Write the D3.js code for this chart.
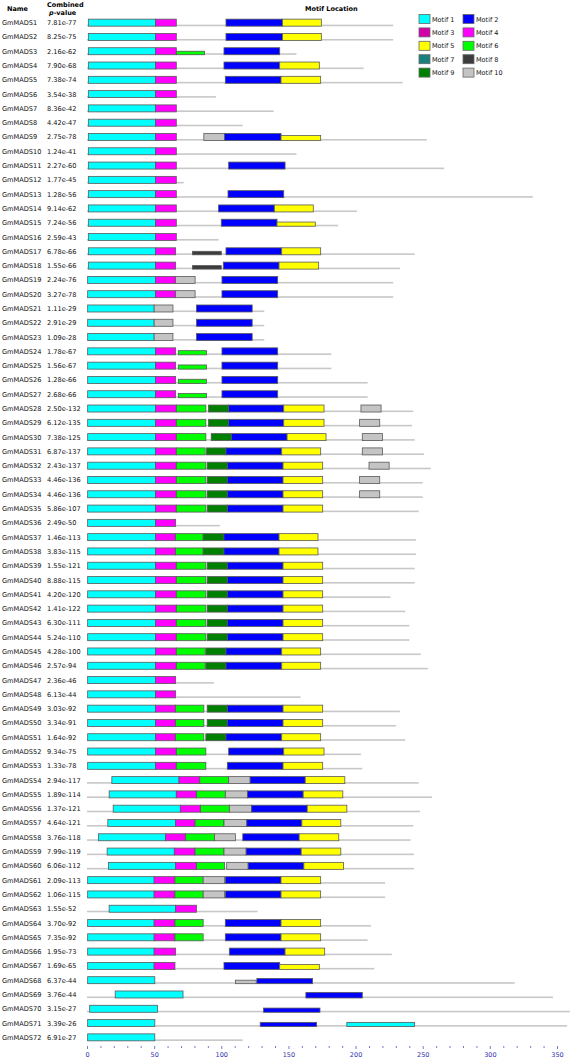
<!DOCTYPE html>
<html><head><meta charset="utf-8">
<script src="https://cdn.jsdelivr.net/npm/d3@7"></script>
<style>body{margin:0;background:#fff}svg{display:block}text{font-family:"DejaVu Sans",Verdana,sans-serif}</style>
</head><body><svg id="chart" width="570" height="1063"></svg>
<script>
const names = ["GmMADS1","GmMADS2","GmMADS3","GmMADS4","GmMADS5","GmMADS6","GmMADS7","GmMADS8","GmMADS9","GmMADS10","GmMADS11","GmMADS12","GmMADS13","GmMADS14","GmMADS15","GmMADS16","GmMADS17","GmMADS18","GmMADS19","GmMADS20","GmMADS21","GmMADS22","GmMADS23","GmMADS24","GmMADS25","GmMADS26","GmMADS27","GmMADS28","GmMADS29","GmMADS30","GmMADS31","GmMADS32","GmMADS33","GmMADS34","GmMADS35","GmMADS36","GmMADS37","GmMADS38","GmMADS39","GmMADS40","GmMADS41","GmMADS42","GmMADS43","GmMADS44","GmMADS45","GmMADS46","GmMADS47","GmMADS48","GmMADS49","GmMADS50","GmMADS51","GmMADS52","GmMADS53","GmMADS54","GmMADS55","GmMADS56","GmMADS57","GmMADS58","GmMADS59","GmMADS60","GmMADS61","GmMADS62","GmMADS63","GmMADS64","GmMADS65","GmMADS66","GmMADS67","GmMADS68","GmMADS69","GmMADS70","GmMADS71","GmMADS72"];
const pValues = ["7.81e-77","8.25e-75","2.16e-62","7.90e-68","7.38e-74","3.54e-38","8.36e-42","4.42e-47","2.75e-78","1.24e-41","2.27e-60","1.77e-45","1.28e-56","9.14e-62","7.24e-56","2.59e-43","6.78e-66","1.55e-66","2.24e-76","3.27e-78","1.11e-29","2.91e-29","1.09e-28","1.78e-67","1.56e-67","1.28e-66","2.68e-66","2.50e-132","6.12e-135","7.38e-125","6.87e-137","2.43e-137","4.46e-136","4.46e-136","5.86e-107","2.49e-50","1.46e-113","3.83e-115","1.55e-121","8.88e-115","4.20e-120","1.41e-122","6.30e-111","5.24e-110","4.28e-100","2.57e-94","2.36e-46","6.13e-44","3.03e-92","3.34e-91","1.64e-92","9.34e-75","1.33e-78","2.94e-117","1.89e-114","1.37e-121","4.64e-121","3.76e-118","7.99e-119","6.06e-112","2.09e-113","1.06e-115","1.55e-52","3.70e-92","7.35e-92","1.95e-73","1.69e-65","6.37e-44","3.76e-44","3.15e-27","3.39e-26","6.91e-27"];
const seqLengths = [228,228,156,206,235,96,139,116,253,156,266,72,332,201,187,98,244,233,228,228,132,132,132,182,182,209,209,243,242,244,251,256,250,250,247,99,245,245,244,244,226,237,240,240,248.5,254,94.5,159,233,230,237,204,205,247,257,248,243,241,243.5,243.5,222,222,127,211.5,209,227,214,318.5,347,359.5,357.5,116];
// each site: [motif, start, end, relative height]
const motifSites = [
 [[1,1,51],[4,51,66.5],[2,103.5,145.5],[5,145.5,174.5]],
 [[1,1,51],[4,51,66.5],[2,103.5,145.5],[5,145.5,174.5]],
 [[1,1,51],[4,51,66.5],[6,66.5,87.5,0.5],[2,102,143.5]],
 [[1,1,51],[4,51,66.5],[2,102,143.5],[5,143.5,173]],
 [[1,1,51],[4,51,66.5],[2,103,144.5],[5,144.5,174]],
 [[1,1,51],[4,51,66.5]],
 [[1,1,51],[4,51,66.5]],
 [[1,1,51],[4,51,66.5]],
 [[1,1,51],[4,51,66.5],[10,87,102.5],[2,102.5,144.5],[5,144.5,174,0.7]],
 [[1,1,51],[4,51,66.5]],
 [[1,1,51],[4,51,66.5],[2,105.5,147.5]],
 [[1,1,51],[4,51,66.5]],
 [[1,1,51],[4,51,66.5],[2,105,146.5]],
 [[1,1,51],[4,51,66.5],[2,98,139.5],[5,139.5,168.5]],
 [[1,1,51],[4,51,66.5],[2,100,141.5],[5,141.5,170,0.6]],
 [[1,1,51],[4,51,66.5]],
 [[1,1,51],[4,51,66],[8,78.5,100,0.5],[2,103.5,145],[5,145,174]],
 [[1,1,51],[4,51,66],[8,78.5,100,0.5],[2,101.5,143],[5,143,172.5]],
 [[1,0.5,51],[4,51,66],[10,66,80.5],[2,100.5,142]],
 [[1,0.5,51],[4,51,66],[10,66,80.5],[2,100.5,142]],
 [[1,0.5,50],[10,50,64],[2,81.5,123]],
 [[1,0.5,50],[10,50,64],[2,81.5,123]],
 [[1,0.5,50],[10,50,64],[2,81.5,123]],
 [[1,0.5,51],[4,51,66],[6,68,89,0.6],[2,100.5,142]],
 [[1,0.5,51],[4,51,66],[6,68,89,0.6],[2,100.5,142]],
 [[1,0.5,51],[4,51,66],[6,68,89,0.6],[2,100.5,142]],
 [[1,0.5,51],[4,51,66],[6,68,89,0.6],[2,100.5,142]],
 [[1,0.5,51],[4,51,66.5],[6,66.5,88.5],[9,90.5,105.5],[2,105.5,146.5],[5,146.5,176.5],[10,204,219]],
 [[1,0.5,51],[4,51,66.5],[6,66.5,88.5],[9,90.5,105.5],[2,105.5,146.5],[5,146.5,176.5],[10,203,218]],
 [[1,0.5,51],[4,51,66.5],[6,66.5,88.5],[9,92.5,107.5],[2,107.5,149],[5,149,178],[10,205,220]],
 [[1,0.5,51],[4,51,66.5],[6,66.5,88],[9,89,103.5],[2,103.5,145],[5,145,174],[10,205,220]],
 [[1,0.5,51],[4,51,66.5],[6,66.5,88.5],[9,89.5,104.5],[2,104.5,146],[5,146,175.5],[10,210,225]],
 [[1,0.5,51],[4,51,66.5],[6,66.5,88.5],[9,89.5,104.5],[2,104.5,146],[5,146,175.5],[10,203,218]],
 [[1,0.5,51],[4,51,66.5],[6,66.5,88.5],[9,89.5,104.5],[2,104.5,146],[5,146,175.5],[10,203,218]],
 [[1,0.5,51],[4,51,66.5],[6,66.5,88.5],[9,89.5,104.5],[2,104.5,146],[5,146,175.5]],
 [[1,0.5,51],[4,51,66]],
 [[1,0.5,51],[4,51,66],[6,66,86.5],[9,86.5,102],[2,102,143],[5,143,172]],
 [[1,0.5,51],[4,51,66],[6,66,86.5],[9,86.5,102],[2,102,143],[5,143,172]],
 [[1,0.5,51],[4,51,66.5],[6,66.5,88.5],[9,89.5,104.5],[2,104.5,146],[5,146,175.5]],
 [[1,0.5,51],[4,51,66.5],[6,66.5,88.5],[9,89.5,104.5],[2,104.5,146],[5,146,175.5]],
 [[1,0.5,51],[4,51,66.5],[6,66.5,88.5],[9,89.5,104.5],[2,104.5,146],[5,146,175.5]],
 [[1,0.5,51],[4,51,66.5],[6,66.5,88.5],[9,89.5,104.5],[2,104.5,146],[5,146,175.5]],
 [[1,0.5,51],[4,51,66.5],[6,66.5,88.5],[9,89.5,104.5],[2,104.5,146],[5,146,175.5]],
 [[1,0.5,51],[4,51,66.5],[6,66.5,88.5],[9,89.5,104.5],[2,104.5,146],[5,146,175.5]],
 [[1,0.5,51],[4,51,66.5],[6,66.5,88],[9,88.5,103.5],[2,103.5,145],[5,145,174]],
 [[1,0.5,51],[4,51,66.5],[6,66.5,88],[9,88.5,103.5],[2,103.5,145],[5,145,174]],
 [[1,0.5,51],[4,51,66]],
 [[1,0.5,51],[4,51,66]],
 [[1,0.5,51],[4,51,66],[6,66,87],[9,89.5,104.5],[2,104.5,146],[5,146,175.5]],
 [[1,0.5,51],[4,51,66],[6,66,87],[9,89.5,104.5],[2,104.5,146],[5,146,175.5]],
 [[1,0.5,51],[4,51,66],[6,66,87],[9,88.5,103.5],[2,103.5,145],[5,145,174]],
 [[1,0.5,51],[4,51,66.5],[6,66.5,88.5],[2,105.5,146.5],[5,146.5,176.5]],
 [[1,0.5,51],[4,51,66.5],[6,66.5,88.5],[2,104.5,146],[5,146,175.5]],
 [[1,18.5,68.5],[4,68.5,84],[6,84,105.5],[10,105.5,121.5],[2,121.5,162.5],[5,162.5,192]],
 [[1,16.5,66.5],[4,66.5,81.5],[6,81.5,103],[10,103,119.5],[2,119.5,161],[5,161,190.5]],
 [[1,19.5,69.5],[4,69.5,84.5],[6,84.5,106],[10,106,122.5],[2,122.5,164],[5,164,193.5]],
 [[1,15.5,66],[4,66,80.5],[6,80.5,102],[10,102,119],[2,119,160],[5,160,189]],
 [[1,8.5,58.5],[4,58.5,73.5],[6,73.5,95],[10,95,110.5],[2,116,158],[5,158,187.5]],
 [[1,15,65],[4,65,80.5],[6,80.5,102],[10,102,118.5],[2,118.5,159.5],[5,159.5,189]],
 [[1,16,66],[4,66,81.5],[6,81.5,102.5],[10,104,120],[2,120,161.5],[5,161.5,191]],
 [[1,0.5,50],[4,50,65.5],[6,65.5,86.5],[10,86.5,102.5],[2,103,144.5],[5,144.5,174]],
 [[1,0.5,50],[4,50,65.5],[6,65.5,86.5],[10,86.5,102.5],[2,103,144.5],[5,144.5,174]],
 [[1,16.5,66],[4,66,81.5]],
 [[1,0.5,50],[4,50,65.5],[6,65.5,86.5],[2,103,144.5],[5,144.5,174]],
 [[1,0.5,50],[4,50,65.5],[6,65.5,86.5],[2,103,144.5],[5,144.5,174]],
 [[1,0.5,50],[4,50,66],[2,106,147.5],[5,147.5,177]],
 [[1,0.5,50],[4,50,65.5],[2,102,143.5],[5,143.5,173,0.7]],
 [[1,0.5,50.5],[10,110.5,126,0.5],[2,126.5,168,0.75]],
 [[1,21,71.5],[2,163,205,0.8]],
 [[1,2,52.5],[2,131.5,173.5,0.6]],
 [[1,0.5,50.5],[2,129,171,0.6],[1,193.5,244,0.6]],
 [[1,0.5,50.5]]
];
const motifLabels = ["Motif 1","Motif 2","Motif 3","Motif 4","Motif 5","Motif 6","Motif 7","Motif 8","Motif 9","Motif 10"];
const motifColors = ["#00ffff","#0000ff","#d400a8","#ff00ff","#ffff00","#00ff00","#1a7f7f","#3c3c3c","#008000","#c4c4c4"];
const axisTicks = [0,50,100,150,200,250,300,350];

const svg = d3.select("#chart");
const x = d3.scaleLinear().domain([0,350]).range([87,557]);
const y = d3.scaleBand().domain(names).range([15.5,1044.5]);
const color = d3.scaleOrdinal().domain(d3.range(1,11)).range(motifColors);
const boxH = 7;

// headers
svg.append("text").attr("x",7).attr("y",11).attr("font-size",6.5).attr("font-weight","bold").text("Name");
svg.append("text").attr("x",47).attr("y",7).attr("font-size",6.5).attr("font-weight","bold").text("Combined");
const pv = svg.append("text").attr("x",49).attr("y",15).attr("font-size",6.5).attr("font-weight","bold");
pv.append("tspan").attr("font-style","italic").text("p");
pv.append("tspan").text("-value");
svg.append("text").attr("x",305).attr("y",11).attr("font-size",6.5).attr("font-weight","bold").text("Motif Location");

const rows = svg.selectAll("g.row").data(names).join("g").attr("class","row")
  .attr("transform", d => `translate(0,${y(d) + y.bandwidth()/2})`);
rows.append("text").attr("x",2).attr("y",2.5).attr("font-size",6.6).attr("fill","#111").text(d => d);
rows.append("text").attr("x",47).attr("y",2.5).attr("font-size",6.6).attr("fill","#111").text((d,i) => pValues[i]);
rows.append("rect").attr("x",x(0)).attr("y",boxH/2 - 1.5)
  .attr("width",(d,i) => x(seqLengths[i]) - x(0)).attr("height",1.6).attr("fill","#c8c8c8");
rows.each(function(d,i){
  d3.select(this).selectAll("rect.site").data(motifSites[i]).join("rect").attr("class","site")
    .attr("x", s => x(s[1])).attr("width", s => x(s[2]) - x(s[1]))
    .attr("y", s => boxH/2 - boxH*(s[3]||1)).attr("height", s => boxH*(s[3]||1))
    .attr("fill", s => color(s[0])).attr("stroke","#5a5a5a").attr("stroke-width",0.8);
});

// legend
const legend = svg.append("g");
const li = legend.selectAll("g").data(motifLabels).join("g")
  .attr("transform",(d,i) => `translate(${i%2 ? 463 : 419},${19 + Math.floor(i/2)*13.4})`);
li.append("rect").attr("x",0).attr("y",-4.5).attr("width",11).attr("height",9)
  .attr("fill",(d,i) => motifColors[i]).attr("stroke","#666").attr("stroke-width",0.8);
li.append("text").attr("x",13).attr("y",2.5).attr("font-size",6.5).attr("fill","#111").text(d => d);

// axis
const axG = svg.append("g").attr("transform","translate(0,1046)");
axG.call(d3.axisBottom(x).tickValues(d3.range(0,351,10)).tickSize(2).tickFormat(v => axisTicks.includes(v) ? v : ""));
axG.select(".domain").remove();
axG.selectAll(".tick line").attr("stroke","#7a7ad0").attr("y2", v => axisTicks.includes(v) ? 3 : 2);
axG.selectAll(".tick text").attr("fill","#3030b0").attr("font-size",6.5).attr("font-family","DejaVu Sans, Verdana, sans-serif").attr("dy","0.9em");
</script></body></html>
